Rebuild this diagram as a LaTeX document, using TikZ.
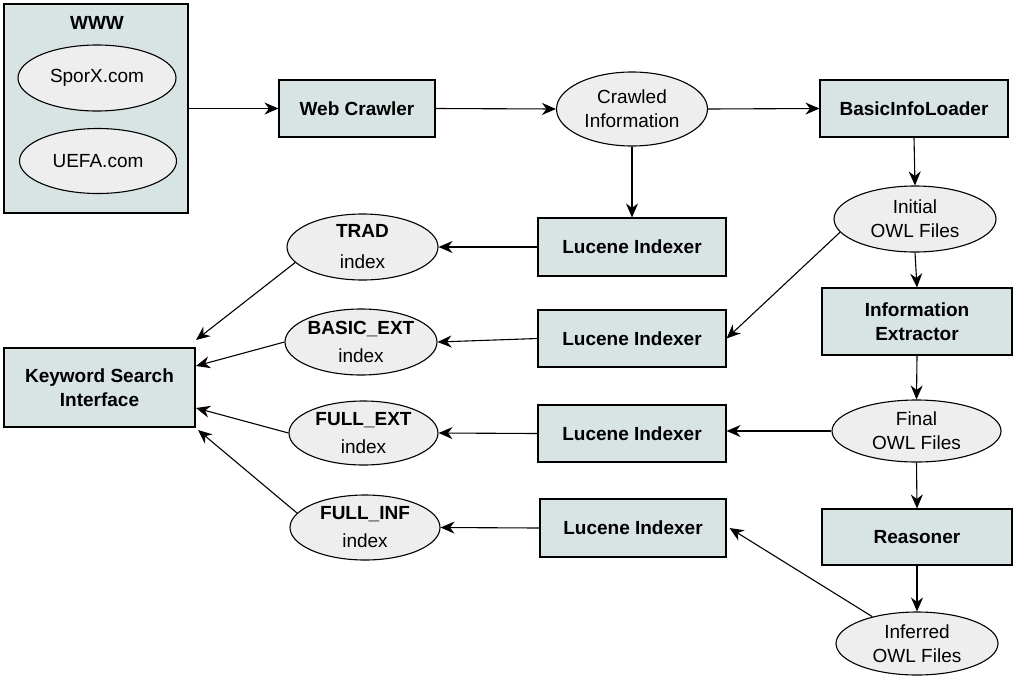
\documentclass[tikz,border=0pt]{standalone}
\usepackage{fontspec}
\setmainfont{Liberation Sans}
\usetikzlibrary{shapes.geometric,arrows.meta}
\definecolor{boxfill}{HTML}{D8E4E4}
\definecolor{ellfill}{HTML}{EEEEEE}
\begin{document}
\begin{tikzpicture}[x=1pt,y=-1pt,
  every node/.style={font=\fontsize{19}{24}\selectfont, align=center},
  box/.style={draw, line width=1.1pt, fill=boxfill, rectangle, inner sep=0pt, font=\fontsize{19}{24}\selectfont\bfseries},
  ell/.style={draw, line width=1.1pt, fill=ellfill, ellipse, inner sep=0pt},
  arr/.style={line width=1.1pt, -{Stealth[length=14pt,width=12pt]}}]
\useasboundingbox (0,0) rectangle (1019,681);
% WWW group
\node[box, minimum width=184pt, minimum height=209pt] (www) at (96,108.5) {};
\node[font=\fontsize{19}{24}\selectfont\bfseries] (wwwt) at (97,23) {WWW};
\node[ell, minimum width=158pt, minimum height=66pt] (sporx) at (97,78) {SporX.com};
\node[ell, minimum width=157pt, minimum height=65pt] (uefa) at (98,161) {UEFA.com};
% top row
\node[box, minimum width=156pt, minimum height=57pt] (crawler) at (357,108.5) {Web Crawler};
\node[ell, minimum width=151pt, minimum height=74pt] (crawled) at (632,109) {Crawled\\Information};
\node[box, minimum width=188pt, minimum height=57pt] (basic) at (914,108.5) {BasicInfoLoader};
% right column
\node[ell, minimum width=162pt, minimum height=66pt] (initial) at (915,219) {Initial\\OWL Files};
\node[box, minimum width=190pt, minimum height=67pt] (extract) at (917,321.5) {Information\\Extractor};
\node[ell, minimum width=169pt, minimum height=62pt] (final) at (916.5,431) {Final\\OWL Files};
\node[box, minimum width=190pt, minimum height=56pt] (reason) at (917,537) {Reasoner};
\node[ell, minimum width=162pt, minimum height=63pt] (inferred) at (917,643.5) {Inferred\\OWL Files};
% Lucene indexers
\node[box, minimum width=188pt, minimum height=58pt] (luc1) at (632,247) {Lucene Indexer};
\node[box, minimum width=188pt, minimum height=57pt] (luc2) at (632,338.5) {Lucene Indexer};
\node[box, minimum width=188pt, minimum height=57pt] (luc3) at (632,433.5) {Lucene Indexer};
\node[box, minimum width=186pt, minimum height=58pt] (luc4) at (633,528) {Lucene Indexer};
% indexes
\node[ell, minimum width=151pt, minimum height=66pt, font=\fontsize{19}{31}\selectfont] (trad) at (362.5,247) {\textbf{TRAD}\\index};
\node[ell, minimum width=152pt, minimum height=66pt, font=\fontsize{19}{28}\selectfont] (bext) at (361,342) {\textbf{BASIC\_EXT}\\index};
\node[ell, minimum width=149pt, minimum height=64pt, font=\fontsize{19}{28}\selectfont] (fext) at (363.5,433) {\textbf{FULL\_EXT}\\index};
\node[ell, minimum width=150pt, minimum height=65pt, font=\fontsize{19}{28}\selectfont] (finf) at (365,527.5) {\textbf{FULL\_INF}\\index};
% keyword search
\node[box, minimum width=191pt, minimum height=79pt] (ksi) at (99.5,387.5) {Keyword Search\\Interface};
% arrows
\draw[arr] (www.east |- crawler) -- (crawler.west);
\draw[arr] (crawler.east) -- (crawled.west);
\draw[arr] (crawled.east) -- (basic.west);
\draw[arr] (crawled.south) -- (luc1.north);
\draw[arr] (basic.south) -- (initial.north);
\draw[arr] (initial.south) -- (extract.north);
\draw[arr] (extract.south) -- (final.north);
\draw[arr] (final.south) -- (reason.north);
\draw[arr] (reason.south) -- (inferred.north);
\draw[arr] (initial.190) -- (luc2.east);
\draw[arr] (final.west) -- (luc3.east |- final.west);
\draw[arr] (inferred.149) -- ([xshift=3pt]luc4.east);
\draw[arr] (luc1.west) -- (trad.east);
\draw[arr] (luc2.west) -- (bext.east);
\draw[arr] (luc3.west) -- (fext.east);
\draw[arr] (luc4.west) -- (finf.east);
\coordinate (k1) at (196,340);
\coordinate (k2) at (196,366);
\coordinate (k3) at (196,408);
\coordinate (k4) at (198,430);
\draw[arr] (trad.193) -- (k1);
\draw[arr] (bext.west) -- (k2);
\draw[arr] (fext.west) -- (k3);
\draw[arr] (finf.168) -- (k4);
\end{tikzpicture}
\end{document}
